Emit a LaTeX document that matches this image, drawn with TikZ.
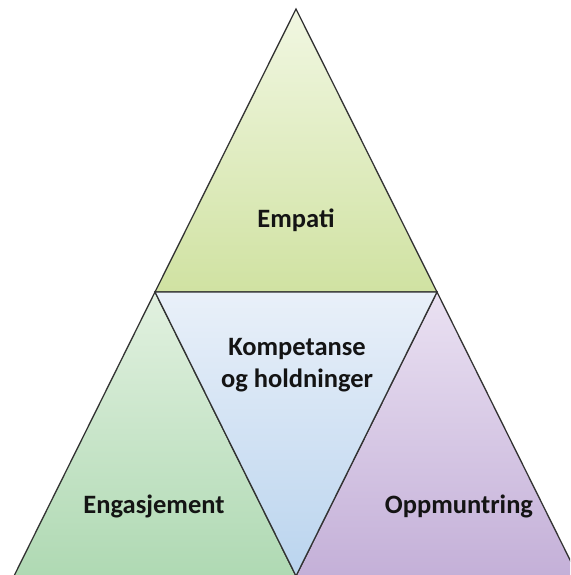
\documentclass[tikz,border=0pt]{standalone}
\usepackage{fontspec}
\setmainfont{Carlito}
\begin{document}
\begin{tikzpicture}[x=1pt,y=-1pt,
  tri/.style={draw=black!80, line width=1.3pt, line join=miter},
  lbl/.style={font=\bfseries\fontsize{26.5}{30}\selectfont, text=black!92, anchor=base, inner sep=0pt, align=center}]
\definecolor{tA}{HTML}{F1F7E2}\definecolor{tB}{HTML}{D0E2A2}
\definecolor{lA}{HTML}{E2F1E0}\definecolor{lB}{HTML}{AFD9B3}
\definecolor{mA}{HTML}{E9F0F9}\definecolor{mB}{HTML}{BAD4EE}
\definecolor{rA}{HTML}{EAE1F2}\definecolor{rB}{HTML}{C4B0D8}
\useasboundingbox (0,0) rectangle (570,575);
\clip (0,0) rectangle (570,575);
\coordinate (apex) at (296,9);
\coordinate (bl) at (155,292);
\coordinate (br) at (437,292);
\coordinate (bm) at (296,576);
\coordinate (ll) at (14,576);
\coordinate (rr) at (578,576);
\shade[tri, top color=tA, bottom color=tB] (apex) -- (br) -- (bl) -- cycle;
\shade[tri, top color=lA, bottom color=lB] (bl) -- (bm) -- (ll) -- cycle;
\shade[tri, top color=rA, bottom color=rB] (br) -- (rr) -- (bm) -- cycle;
\shade[tri, top color=mA, bottom color=mB] (bl) -- (br) -- (bm) -- cycle;
\node[lbl] (emp) at (296,227) {Empati};
\node[lbl] (komp) at (297,355) {Kompetanse};
\node[lbl] (hold) at (297,387) {og holdninger};
\node[lbl] (eng) at (154,513) {Engasjement};
\node[lbl] (opp) at (459,513) {Oppmuntring};
\end{tikzpicture}
\end{document}
